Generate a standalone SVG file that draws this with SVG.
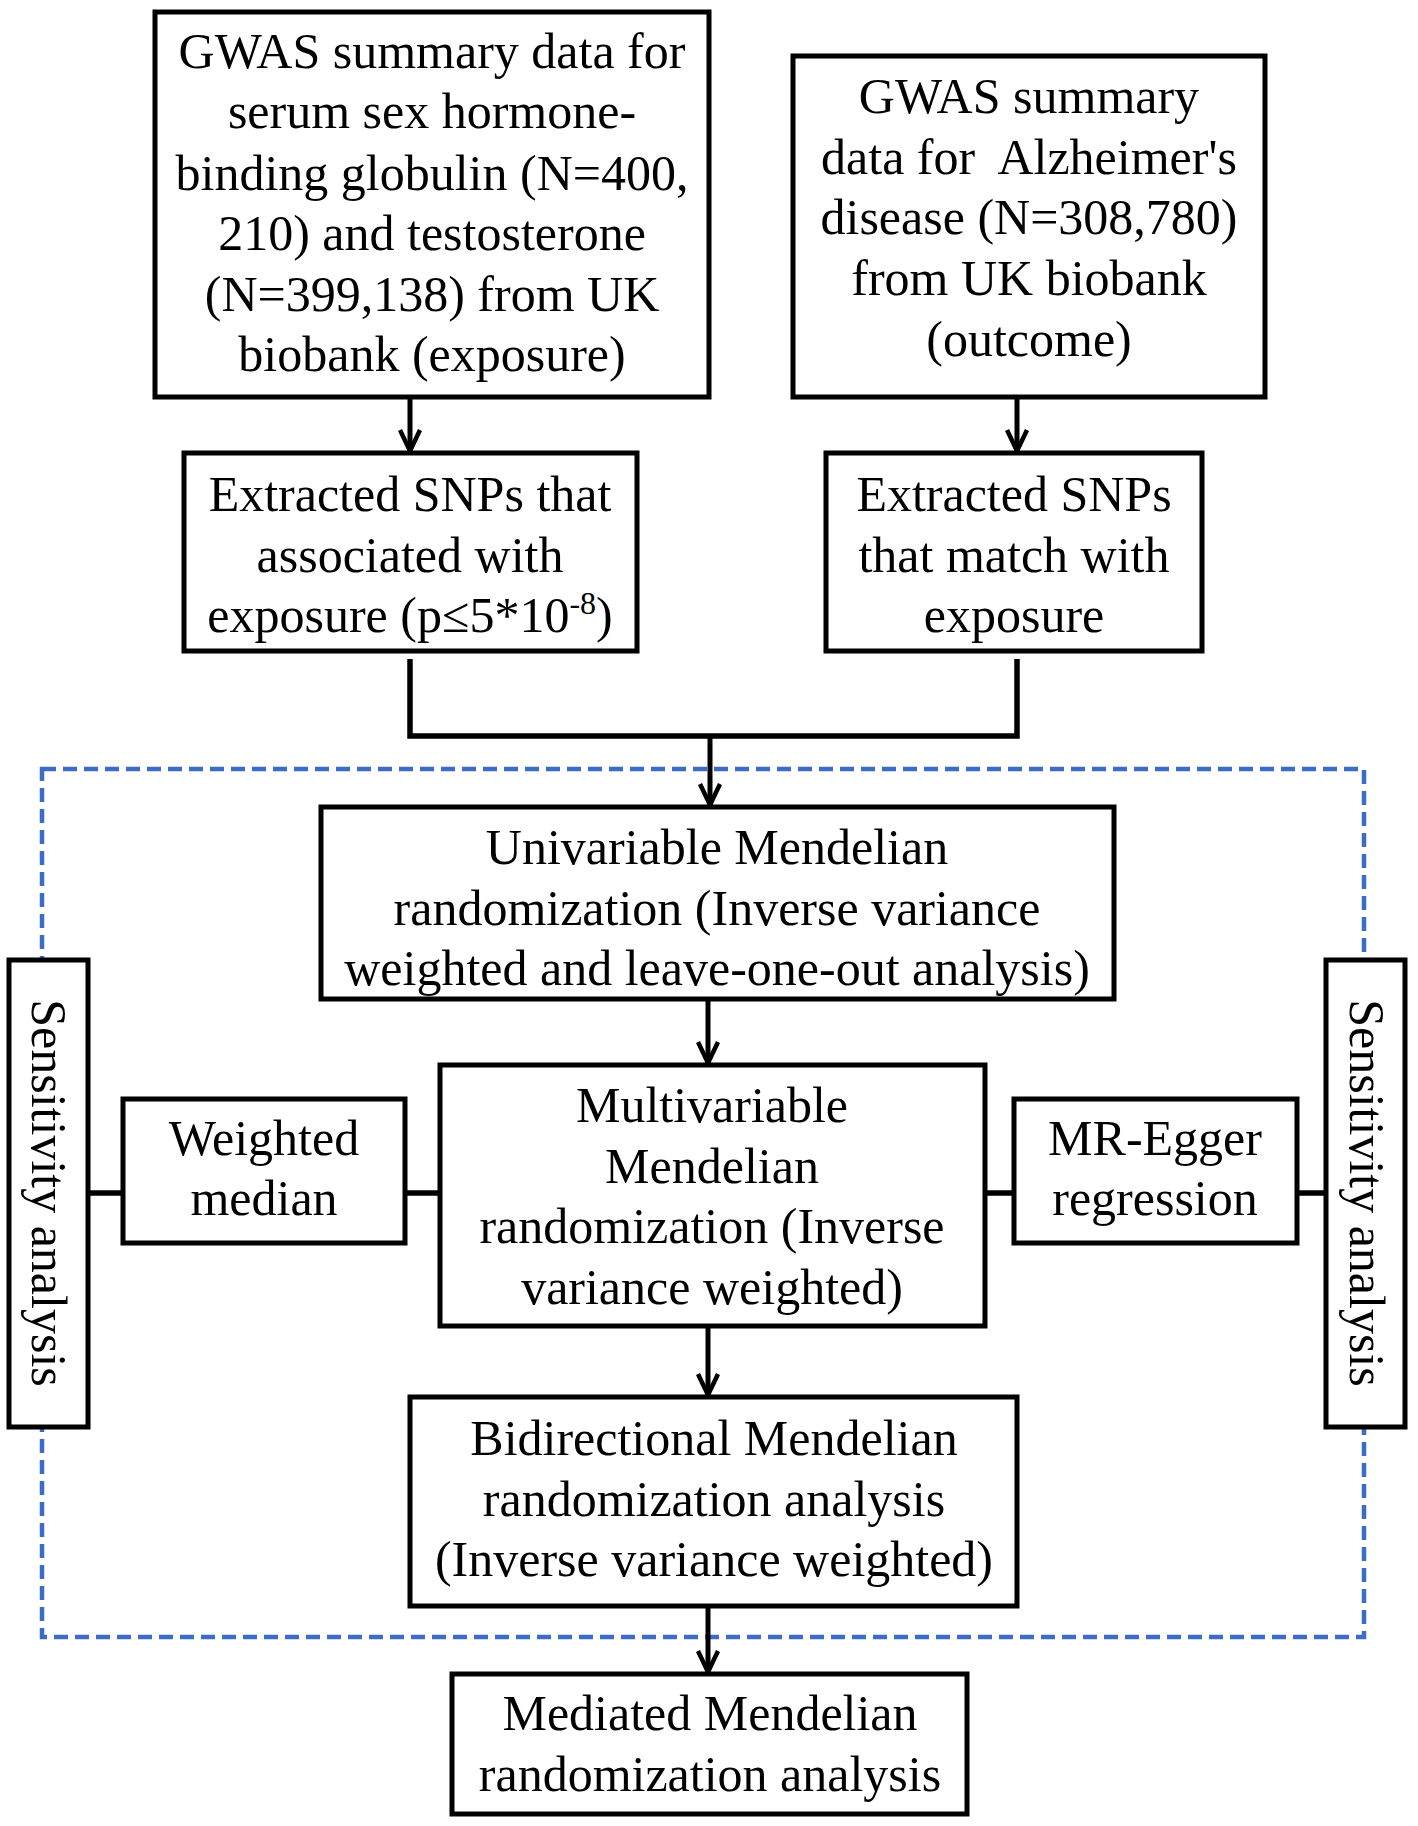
<svg xmlns="http://www.w3.org/2000/svg" width="1418" height="1826" viewBox="0 0 1418 1826">
<style>
.box{fill:#fff;stroke:#000;stroke-width:5}
.t{font-family:"Liberation Serif","Times New Roman",serif;font-size:50px;fill:#000;text-anchor:middle}
.ln{fill:none;stroke:#000;stroke-width:5.5}
.ar{fill:none;stroke:#000;stroke-width:5;marker-end:url(#arr)}
.dash{fill:none;stroke:#3d6cc4;stroke-width:4.5;stroke-dasharray:14 7}
</style>
<defs>
<marker id="arr" viewBox="0 0 26 24" markerWidth="26" markerHeight="24" refX="23" refY="12" orient="auto" markerUnits="userSpaceOnUse">
<path d="M2,2 L23,12 L2,22" fill="none" stroke="#000" stroke-width="4.5" stroke-linejoin="miter"/>
</marker>
</defs>
<rect width="1418" height="1826" fill="#fff"/>
<g id="region">
<rect class="dash" x="42" y="769" width="1322" height="868"/>
</g>
<g id="connectors">
<line class="ar" x1="410" y1="397" x2="410" y2="451"/>
<line class="ar" x1="1017" y1="397" x2="1017" y2="451"/>
<polyline class="ln" points="410,659 410,736 1017,736 1017,659"/>
<line class="ar" x1="710" y1="736" x2="710" y2="805"/>
<line class="ar" x1="708" y1="999" x2="708" y2="1063"/>
<line class="ar" x1="708" y1="1326" x2="708" y2="1395"/>
<line class="ar" x1="708" y1="1606" x2="708" y2="1672"/>
<line class="ln" x1="88" y1="1193" x2="123" y2="1193"/>
<line class="ln" x1="405" y1="1193" x2="440" y2="1193"/>
<line class="ln" x1="985" y1="1193" x2="1014" y2="1193"/>
<line class="ln" x1="1297" y1="1193" x2="1326" y2="1193"/>
</g>
<g id="gwas-exposure">
<rect class="box" x="155" y="12" width="554" height="385"/>
<text class="t" x="432" y="68">GWAS summary data for</text>
<text class="t" x="432" y="128">serum sex hormone-</text>
<text class="t" x="432" y="190">binding globulin (N=400,</text>
<text class="t" x="432" y="250">210) and testosterone</text>
<text class="t" x="432" y="311">(N=399,138) from UK</text>
<text class="t" x="432" y="371">biobank (exposure)</text>
</g>
<g id="gwas-outcome">
<rect class="box" x="793" y="56" width="472" height="341"/>
<text class="t" x="1029" y="113">GWAS summary</text>
<text class="t" x="1029" y="174" xml:space="preserve">data for  Alzheimer's</text>
<text class="t" x="1029" y="234">disease (N=308,780)</text>
<text class="t" x="1029" y="295">from UK biobank</text>
<text class="t" x="1029" y="356">(outcome)</text>
</g>
<g id="snps-exposure">
<rect class="box" x="184" y="453" width="453" height="198"/>
<text class="t" x="410" y="511">Extracted SNPs that</text>
<text class="t" x="410" y="572">associated with</text>
<text class="t" x="410" y="632">exposure (p≤5*10<tspan dy="-18" font-size="32">-8</tspan><tspan dy="18">)</tspan></text>
</g>
<g id="snps-outcome">
<rect class="box" x="826" y="453" width="376" height="198"/>
<text class="t" x="1014" y="511">Extracted SNPs</text>
<text class="t" x="1014" y="572">that match with</text>
<text class="t" x="1014" y="632">exposure</text>
</g>
<g id="univariable">
<rect class="box" x="321" y="807" width="793" height="192"/>
<text class="t" x="717" y="864">Univariable Mendelian</text>
<text class="t" x="717" y="925">randomization (Inverse variance</text>
<text class="t" x="717" y="985">weighted and leave-one-out analysis)</text>
</g>
<g id="multivariable">
<rect class="box" x="440" y="1065" width="545" height="261"/>
<text class="t" x="712" y="1122">Multivariable</text>
<text class="t" x="712" y="1183">Mendelian</text>
<text class="t" x="712" y="1243">randomization (Inverse</text>
<text class="t" x="712" y="1304">variance weighted)</text>
</g>
<g id="weighted-median">
<rect class="box" x="123" y="1099" width="282" height="144"/>
<text class="t" x="264" y="1155">Weighted</text>
<text class="t" x="264" y="1215">median</text>
</g>
<g id="mr-egger">
<rect class="box" x="1014" y="1099" width="283" height="144"/>
<text class="t" x="1155" y="1155">MR-Egger</text>
<text class="t" x="1155" y="1215">regression</text>
</g>
<g id="sensitivity-left">
<rect class="box" x="9" y="960" width="79" height="467"/>
<text class="t" transform="translate(48,1193) rotate(90)" dy="0.33em">Sensitivity analysis</text>
</g>
<g id="sensitivity-right">
<rect class="box" x="1326" y="960" width="79" height="467"/>
<text class="t" transform="translate(1366,1193) rotate(90)" dy="0.33em">Sensitivity analysis</text>
</g>
<g id="bidirectional">
<rect class="box" x="410" y="1397" width="607" height="209"/>
<text class="t" x="714" y="1455">Bidirectional Mendelian</text>
<text class="t" x="714" y="1516">randomization analysis</text>
<text class="t" x="714" y="1576">(Inverse variance weighted)</text>
</g>
<g id="mediated">
<rect class="box" x="452" y="1674" width="515" height="140"/>
<text class="t" x="710" y="1730">Mediated Mendelian</text>
<text class="t" x="710" y="1791">randomization analysis</text>
</g>
</svg>
